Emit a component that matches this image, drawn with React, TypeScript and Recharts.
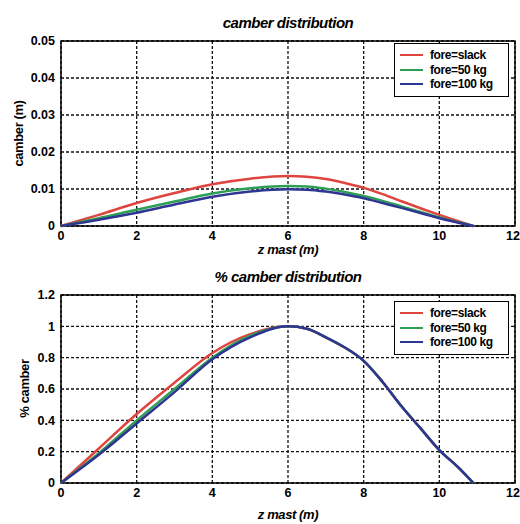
import { LineChart, Line, XAxis, YAxis, CartesianGrid, Legend, ReferenceArea } from 'recharts';

// z positions along the mast (m)
const zMast = [0, 1, 2, 3, 4, 5, 6, 6.5, 7, 7.5, 8, 8.5, 9, 9.5, 10, 10.5, 10.9];

// camber (m)
const camberSlack = [0, 0.003, 0.0062, 0.0089, 0.0113, 0.0128, 0.0135, 0.0133, 0.0127, 0.0116, 0.0103, 0.0086, 0.0067, 0.0048, 0.003, 0.0013, 0];
const camber50 = [0, 0.0021, 0.0044, 0.0066, 0.0088, 0.0102, 0.0108, 0.0107, 0.0101, 0.0092, 0.0081, 0.0068, 0.0053, 0.0038, 0.0023, 0.001, 0];
const camber100 = [0, 0.0017, 0.0036, 0.0058, 0.0079, 0.0093, 0.0099, 0.0098, 0.0093, 0.0085, 0.0075, 0.0062, 0.0049, 0.0035, 0.0021, 0.0009, 0];

// % camber (normalised)
const pctSlack = [0, 0.22, 0.44, 0.64, 0.83, 0.95, 1.0, 0.985, 0.93, 0.865, 0.78, 0.645, 0.49, 0.35, 0.21, 0.1, 0];
const pct50 = [0, 0.19, 0.4, 0.6, 0.8, 0.94, 1.0, 0.985, 0.93, 0.865, 0.78, 0.645, 0.49, 0.35, 0.21, 0.1, 0];
const pct100 = [0, 0.18, 0.38, 0.58, 0.79, 0.93, 1.0, 0.985, 0.93, 0.865, 0.78, 0.645, 0.49, 0.35, 0.21, 0.1, 0];

const xTicks = [0, 2, 4, 6, 8, 10, 12];
const camberTicks = [0, 0.01, 0.02, 0.03, 0.04, 0.05];
const pctTicks = [0, 0.2, 0.4, 0.6, 0.8, 1, 1.2];

const seriesNames = ['fore=slack', 'fore=50 kg', 'fore=100 kg'];
const seriesColors = ['#e0443f', '#2f9e55', '#2f3592'];

const FONT = '"Liberation Sans", Arial, sans-serif';

const camberData = zMast.map((z, i) => ({ z, s0: camberSlack[i], s1: camber50[i], s2: camber100[i] }));
const pctData = zMast.map((z, i) => ({ z, s0: pctSlack[i], s1: pct50[i], s2: pct100[i] }));

const tickStyle = { fill: '#000', fontSize: 12.5, fontWeight: 700, fontFamily: FONT };

// x tick that keeps the last label inside the picture
const XTick = (props: any) => {
  const { x, y, payload } = props;
  const last = x > 505;
  return (
    <text
      x={last ? 520 : x}
      y={y}
      dy="0.71em"
      textAnchor={last ? 'end' : 'middle'}
      fill="#000"
      fontSize={12.5}
      fontWeight={700}
      fontFamily={FONT}
    >
      {payload.value}
    </text>
  );
};

const LegendBox = (props: any) => {
  const payload = [...(props.payload || [])].sort(
    (a: any, b: any) => seriesNames.indexOf(a.value) - seriesNames.indexOf(b.value)
  );
  return (
    <div
      style={{
        border: '1.5px solid #000',
        background: '#fff',
        padding: '4px 0 4px 5px',
        width: 108,
        fontFamily: FONT,
        fontWeight: 700,
        fontSize: 12,
        letterSpacing: -0.4,
      }}
    >
      {payload.map((p: any) => (
        <div key={p.value} style={{ display: 'flex', alignItems: 'center', height: 14.5 }}>
          <span style={{ width: 23, borderTop: `2.5px solid ${p.color}`, marginRight: 7 }} />
          <span>{p.value}</span>
        </div>
      ))}
    </div>
  );
};

function Panel({
  top,
  height,
  plotTop,
  xAxisHeight,
  data,
  yMax,
  yTicks,
  title,
  yLabel,
  yLabelX,
  xLabelY,
}: {
  top: number;
  height: number;
  plotTop: number;
  xAxisHeight: number;
  data: any[];
  yMax: number;
  yTicks: number[];
  title: string;
  yLabel: string;
  yLabelX: number;
  xLabelY: number;
}) {
  const plotBottom = height - xAxisHeight;
  return (
    <div style={{ position: 'absolute', left: 0, top, width: 520, height }}>
      <div
        style={{
          position: 'absolute',
          left: 0,
          width: 576,
          top: plotTop - 27,
          textAlign: 'center',
          fontFamily: FONT,
          fontWeight: 700,
          fontStyle: 'italic',
          fontSize: 15,
          letterSpacing: -0.5,
        }}
      >
        {title}
      </div>
      <LineChart width={520} height={height} data={data} margin={{ top: plotTop, right: 5, bottom: 0, left: 0 }}>
        <CartesianGrid stroke="#111" strokeDasharray="3 2" strokeWidth={1.3} />
        <XAxis
          dataKey="z"
          type="number"
          domain={[0, 12]}
          ticks={xTicks}
          height={xAxisHeight}
          tick={<XTick />}
          tickLine={false}
          axisLine={false}
          tickSize={3}
          tickMargin={2}
          interval={0}
        />
        <YAxis
          type="number"
          domain={[0, yMax]}
          ticks={yTicks}
          width={61}
          tick={tickStyle}
          tickLine={false}
          axisLine={false}
          tickSize={4}
          tickMargin={2}
          interval={0}
        />
        <ReferenceArea x1={0} x2={12} y1={0} y2={yMax} fill="none" stroke="#000" strokeWidth={1.5} />
        <Legend
          layout="vertical"
          align="center"
          verticalAlign="middle"
          wrapperStyle={{ left: 394, top: 43, width: 113 }}
          content={LegendBox}
        />
        {seriesNames.map((name, i) => (
          <Line
            key={name}
            type="monotone"
            dataKey={`s${i}`}
            name={name}
            stroke={seriesColors[i]}
            strokeWidth={2.5}
            dot={false}
            isAnimationActive={false}
          />
        ))}
      </LineChart>
      <div
        style={{
          position: 'absolute',
          left: 0,
          width: 576,
          top: xLabelY - 8,
          textAlign: 'center',
          fontFamily: FONT,
          fontWeight: 700,
          fontStyle: 'italic',
          fontSize: 13,
          letterSpacing: -0.4,
        }}
      >
        z mast (m)
      </div>
      <div
        style={{
          position: 'absolute',
          left: yLabelX - 60,
          top: plotTop + (plotBottom - plotTop) / 2 - 8,
          width: 120,
          textAlign: 'center',
          transform: 'rotate(-90deg)',
          fontFamily: FONT,
          fontWeight: 700,
          fontSize: 13,
          letterSpacing: -0.4,
        }}
      >
        {yLabel}
      </div>
    </div>
  );
}

export default function App() {
  return (
    <div style={{ position: 'absolute', left: 0, top: 0, width: 520, height: 524, background: '#fff' }}>
      <Panel
        top={0}
        height={258}
        plotTop={41}
        xAxisHeight={32}
        data={camberData}
        yMax={0.05}
        yTicks={camberTicks}
        title="camber distribution"
        yLabel="camber (m)"
        yLabelX={18}
        xLabelY={250}
      />
      <Panel
        top={258}
        height={266}
        plotTop={37}
        xAxisHeight={41}
        data={pctData}
        yMax={1.2}
        yTicks={pctTicks}
        title="% camber distribution"
        yLabel="% camber"
        yLabelX={24}
        xLabelY={257}
      />
    </div>
  );
}
